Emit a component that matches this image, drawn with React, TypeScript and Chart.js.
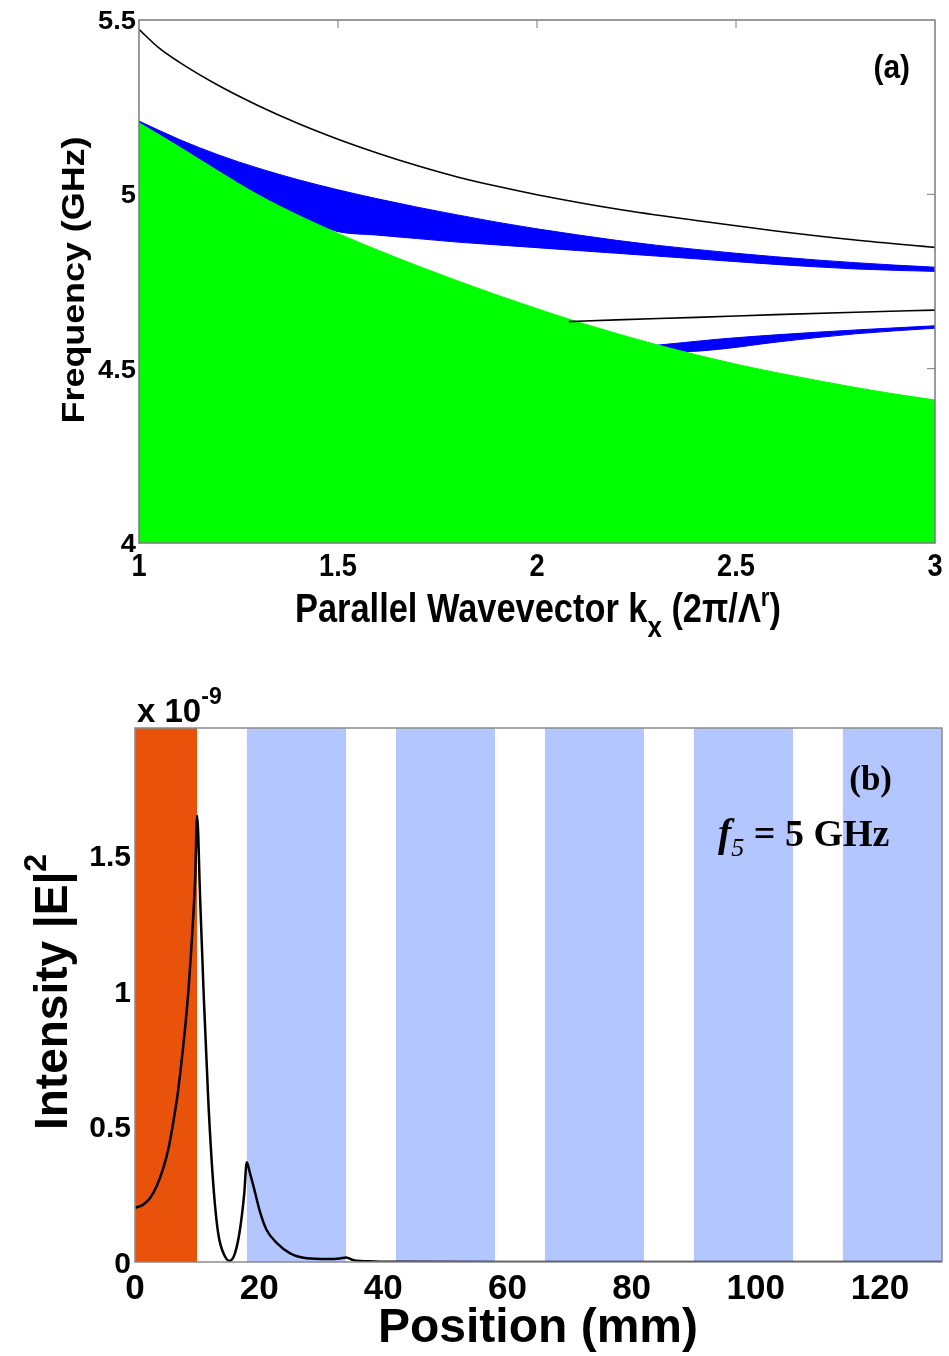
import React, { useEffect, useRef } from "react";
import { Chart, registerables } from "chart.js";
Chart.register(...registerables);

// ---------- Panel (a): band structure ----------
const kGrid = [1.0, 1.1, 1.2, 1.3, 1.4, 1.5, 1.6, 1.7, 1.8, 1.9, 2.0, 2.1, 2.2, 2.3, 2.4, 2.5, 2.6, 2.7, 2.8, 2.9, 3.0];
const lightLine = [5.205, 5.137, 5.066, 4.998, 4.94, 4.888, 4.84, 4.795, 4.752, 4.711, 4.672, 4.635, 4.601, 4.569, 4.54, 4.513, 4.489, 4.467, 4.446, 4.427, 4.41];
const band1Top = [5.21, 5.158, 5.113, 5.075, 5.042, 5.013, 4.987, 4.963, 4.941, 4.92, 4.901, 4.884, 4.868, 4.854, 4.842, 4.831, 4.821, 4.812, 4.804, 4.797, 4.791];
const band1Bottom = [5.2, 5.13, 5.06, 4.99, 4.932, 4.893, 4.883, 4.873, 4.863, 4.855, 4.847, 4.839, 4.831, 4.823, 4.815, 4.807, 4.799, 4.792, 4.786, 4.782, 4.779];
const kUpper = [1.0, 1.05, 1.1, 1.2, 1.3, 1.4, 1.5, 1.6, 1.7, 1.8, 1.9, 2.0, 2.2, 2.4, 2.6, 2.8, 3.0];
const upperMode = [5.473, 5.42, 5.38, 5.312, 5.254, 5.203, 5.158, 5.118, 5.082, 5.05, 5.023, 4.999, 4.958, 4.925, 4.895, 4.869, 4.848];
const kLower = [2.08, 2.2, 2.4, 2.6, 2.8, 3.0];
const lowerMode = [4.635, 4.64, 4.647, 4.655, 4.662, 4.668];
const kBand2 = [2.29, 2.37, 2.46, 2.6, 2.8, 3.0];
const band2Top = [4.566, 4.575, 4.585, 4.597, 4.611, 4.623];
const band2Bottom = [4.56, 4.549, 4.556, 4.576, 4.6, 4.616];
const kTickValues = [1, 1.5, 2, 2.5, 3];
const freqTickValues = [4, 4.5, 5, 5.5];

// ---------- Panel (b): field intensity ----------
const positionMm = [0, 1.2, 2.4, 3.5, 4.6, 5.4, 6.2, 6.9, 7.5, 8.1, 8.6, 9.0, 9.4, 9.7, 10.0, 10.5, 11.1, 11.8, 12.6, 13.4, 14.5, 15.2, 16.1, 16.9, 17.6, 18.0, 18.5, 19.1, 20.2, 21.2, 22.9, 25.0, 27.7, 30.9, 33.0, 34.0, 35.2, 38.4, 42.0, 60, 80, 100, 130];
const intensity = [0.2, 0.21, 0.235, 0.28, 0.35, 0.42, 0.52, 0.625, 0.74, 0.87, 1.0, 1.13, 1.28, 1.42, 1.646, 1.336, 0.967, 0.598, 0.29, 0.106, 0.02, 0.004, 0.032, 0.118, 0.253, 0.368, 0.33, 0.278, 0.18, 0.118, 0.069, 0.032, 0.014, 0.011, 0.013, 0.017, 0.007, 0.002, 0.001, 0, 0, 0, 0];
const layerStart = [0, 18, 42, 66, 90, 114];
const layerEnd = [10, 34, 58, 82, 106, 130];
const layerKind = ["metal", "dielectric", "dielectric", "dielectric", "dielectric", "dielectric"];
const posTickValues = [0, 20, 40, 60, 80, 100, 120];
const intensityTickValues = [0, 0.5, 1, 1.5];
const intensityMax = 1.97;

type Part = { t: string; font: string; dy?: number };
function drawRich(
  ctx: CanvasRenderingContext2D,
  parts: Part[],
  x: number,
  y: number,
  align: "left" | "center" | "right" = "left",
  rot = 0,
  sx = 1,
  color = "#000"
) {
  ctx.save();
  ctx.translate(x, y);
  if (rot) ctx.rotate(rot);
  ctx.scale(sx, 1);
  ctx.textBaseline = "alphabetic";
  ctx.textAlign = "left";
  ctx.fillStyle = color;
  const widths = parts.map((p) => {
    ctx.font = p.font;
    return ctx.measureText(p.t).width;
  });
  const total = widths.reduce((a, b) => a + b, 0);
  let cx = align === "center" ? -total / 2 : align === "right" ? -total : 0;
  parts.forEach((p, i) => {
    ctx.font = p.font;
    ctx.fillText(p.t, cx, p.dy || 0);
    cx += widths[i];
  });
  ctx.restore();
}

const SANS = '"Liberation Sans", Arial, sans-serif';
const SERIF = '"Liberation Serif", "Times New Roman", serif';

function pts(xs: number[], ys: number[]) {
  return xs.map((x, i) => ({ x, y: ys[i] }));
}

const panelAPlugin = {
  id: "panelA",
  afterDraw(chart: any) {
    const ctx: CanvasRenderingContext2D = chart.ctx;
    const { left, right, top, bottom } = chart.chartArea;
    const xs = chart.scales.x;
    const ys = chart.scales.y;
    ctx.save();
    ctx.strokeStyle = "#7a7a7a";
    ctx.lineWidth = 1.5;
    ctx.strokeRect(left, top, right - left, bottom - top);
    ctx.lineWidth = 1;
    kTickValues.forEach((v) => {
      const px = xs.getPixelForValue(v);
      if (px > left + 1 && px < right - 1) {
        ctx.beginPath();
        ctx.moveTo(px, top);
        ctx.lineTo(px, top + 8);
        ctx.stroke();
      }
    });
    freqTickValues.forEach((v) => {
      const py = ys.getPixelForValue(v);
      if (py > top + 1 && py < bottom - 1) {
        ctx.beginPath();
        ctx.moveTo(right, py);
        ctx.lineTo(right - 8, py);
        ctx.stroke();
      }
    });
    ctx.restore();
    const tickFont = `bold 32px ${SANS}`;
    kTickValues.forEach((v) => {
      drawRich(ctx, [{ t: String(v), font: tickFont }], xs.getPixelForValue(v), bottom + 33, "center", 0, 0.85);
    });
    freqTickValues.forEach((v) => {
      drawRich(ctx, [{ t: String(v), font: `bold 26px ${SANS}` }], left - 3, ys.getPixelForValue(v) + 9, "right", 0, 1.05);
    });
    const big = `bold 40px ${SANS}`;
    drawRich(
      ctx,
      [
        { t: "Parallel Wavevector k", font: big },
        { t: "x", font: `bold 30px ${SANS}`, dy: 15 },
        { t: " (2\u03c0/\u039b", font: big },
        { t: "r", font: `bold 26px ${SANS}`, dy: -16 },
        { t: ")", font: big },
      ],
      538,
      622,
      "center",
      0,
      0.86
    );
    drawRich(ctx, [{ t: "Frequency (GHz)", font: `bold 32px ${SANS}` }], 84, 280, "center", -Math.PI / 2, 1.12);
    drawRich(ctx, [{ t: "(a)", font: `bold 34px ${SANS}` }], 910, 78, "right", 0, 0.88);
  },
};

const panelBPlugin = {
  id: "panelB",
  afterDraw(chart: any) {
    const ctx: CanvasRenderingContext2D = chart.ctx;
    const { left, right, top, bottom } = chart.chartArea;
    const xs = chart.scales.x;
    const ys = chart.scales.y;
    ctx.save();
    ctx.strokeStyle = "#8a8a8a";
    ctx.lineWidth = 1.5;
    ctx.strokeRect(left, top, right - left, bottom - top);
    ctx.restore();
    posTickValues.forEach((v) => {
      drawRich(ctx, [{ t: String(v), font: `bold 35px ${SANS}` }], xs.getPixelForValue(v), bottom + 37, "center");
    });
    intensityTickValues.forEach((v) => {
      drawRich(ctx, [{ t: String(v), font: `bold 30px ${SANS}` }], left - 4, ys.getPixelForValue(v) + 11, "right");
    });
    drawRich(
      ctx,
      [
        { t: "x 10", font: `bold 33px ${SANS}` },
        { t: "-9", font: `bold 23px ${SANS}`, dy: -18 },
      ],
      137,
      top - 6,
      "left"
    );
    drawRich(
      ctx,
      [
        { t: "Intensity |E|", font: `bold 46px ${SANS}` },
        { t: "2", font: `bold 32px ${SANS}`, dy: -21 },
      ],
      67,
      (top + bottom) / 2 - 3,
      "center",
      -Math.PI / 2
    );
    drawRich(ctx, [{ t: "Position (mm)", font: `bold 48px ${SANS}` }], 538, 682, "center");
    drawRich(ctx, [{ t: "(b)", font: `bold 35px ${SERIF}` }], 892, 130, "right");
    drawRich(
      ctx,
      [
        { t: "f", font: `italic bold 40px ${SERIF}` },
        { t: "5", font: `italic 26px ${SERIF}`, dy: 10 },
        { t: " = 5 GHz", font: `bold 38px ${SERIF}` },
      ],
      718,
      186,
      "left"
    );
  },
};

function PanelA() {
  const ref = useRef<HTMLCanvasElement>(null);
  useEffect(() => {
    if (!ref.current) return;
    const chart = new Chart(ref.current, {
      type: "line",
      data: {
        datasets: [
          { data: pts(kUpper, upperMode), borderColor: "#000", borderWidth: 1.6, pointRadius: 0, fill: false, order: 0, cubicInterpolationMode: "monotone" },
          { data: pts(kLower, lowerMode), borderColor: "#000", borderWidth: 1.6, pointRadius: 0, fill: false, order: 0, cubicInterpolationMode: "monotone" },
          { data: pts(kGrid, lightLine), borderColor: "#00ff00", borderWidth: 1, backgroundColor: "#00ff00", pointRadius: 0, fill: "start", order: 1, cubicInterpolationMode: "monotone" },
          { data: pts(kGrid, band1Top), borderColor: "#0000ff", borderWidth: 1, backgroundColor: "#0000ff", pointRadius: 0, fill: "+1", order: 2, cubicInterpolationMode: "monotone" },
          { data: pts(kGrid, band1Bottom), borderColor: "#0000ff", borderWidth: 1, backgroundColor: "#0000ff", pointRadius: 0, fill: false, order: 2, cubicInterpolationMode: "monotone" },
          { data: pts(kBand2, band2Top), borderColor: "#0000ff", borderWidth: 1, backgroundColor: "#0000ff", pointRadius: 0, fill: "+1", order: 2, cubicInterpolationMode: "monotone" },
          { data: pts(kBand2, band2Bottom), borderColor: "#0000ff", borderWidth: 1, backgroundColor: "#0000ff", pointRadius: 0, fill: false, order: 2, cubicInterpolationMode: "monotone" },
        ],
      },
      options: {
        animation: false,
        responsive: false,
        events: [],
        layout: { padding: { left: 0, right: 14, top: 20, bottom: 0 } },
        plugins: { legend: { display: false }, tooltip: { enabled: false } },
        scales: {
          x: {
            type: "linear",
            min: 1,
            max: 3,
            ticks: { display: false, stepSize: 0.5 },
            grid: { display: false, drawTicks: false },
            border: { display: false },
            afterFit: (s: any) => {
              s.height = 117;
            },
          },
          y: {
            type: "linear",
            min: 4,
            max: 5.5,
            ticks: { display: false, stepSize: 0.5 },
            grid: { display: false, drawTicks: false },
            border: { display: false },
            afterFit: (s: any) => {
              s.width = 139;
            },
          },
        },
      },
      plugins: [panelAPlugin],
    } as any);
    return () => chart.destroy();
  }, []);
  return <canvas ref={ref} width={949} height={660} style={{ position: "absolute", left: 0, top: 0, width: 949, height: 660 }} />;
}

function PanelB() {
  const ref = useRef<HTMLCanvasElement>(null);
  useEffect(() => {
    if (!ref.current) return;
    const layerDatasets = layerStart.map((s, i) => ({
      data: [
        { x: s, y: intensityMax },
        { x: layerEnd[i], y: intensityMax },
      ],
      borderWidth: 0,
      borderColor: "rgba(0,0,0,0)",
      backgroundColor: layerKind[i] === "metal" ? "#e8520a" : "#b3c6ff",
      pointRadius: 0,
      fill: "start",
      order: 1,
    }));
    const chart = new Chart(ref.current, {
      type: "line",
      data: {
        datasets: [
          { data: pts(positionMm, intensity), borderColor: "#000", borderWidth: 2.5, pointRadius: 0, fill: false, order: 0, cubicInterpolationMode: "monotone" },
          ...layerDatasets,
        ],
      },
      options: {
        animation: false,
        responsive: false,
        events: [],
        layout: { padding: { left: 0, right: 7, top: 68, bottom: 0 } },
        plugins: { legend: { display: false }, tooltip: { enabled: false } },
        scales: {
          x: {
            type: "linear",
            min: 0,
            max: 130,
            ticks: { display: false, stepSize: 20, includeBounds: false },
            grid: { display: false, drawTicks: false },
            border: { display: false },
            afterFit: (s: any) => {
              s.height = 94;
            },
          },
          y: {
            type: "linear",
            min: 0,
            max: intensityMax,
            ticks: { display: false, stepSize: 0.5, includeBounds: false },
            grid: { display: false, drawTicks: false },
            border: { display: false },
            afterFit: (s: any) => {
              s.width = 135;
            },
          },
        },
      },
      plugins: [panelBPlugin],
    } as any);
    return () => chart.destroy();
  }, []);
  return <canvas ref={ref} width={949} height={696} style={{ position: "absolute", left: 0, top: 660, width: 949, height: 696 }} />;
}

export default function App() {
  return (
    <div style={{ position: "absolute", left: 0, top: 0, width: 949, height: 1356, background: "#fff", overflow: "hidden" }}>
      <PanelA />
      <PanelB />
    </div>
  );
}
